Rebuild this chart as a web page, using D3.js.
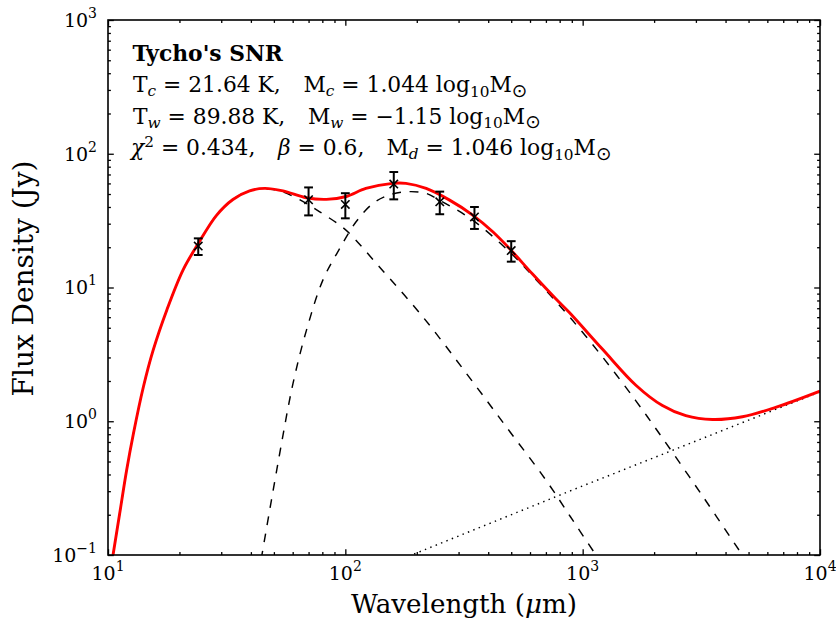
<!DOCTYPE html>
<html><head><meta charset="utf-8">
<script src="https://cdn.jsdelivr.net/npm/d3@7"></script>
<style>body{margin:0;background:#fff}svg{display:block}text{font-family:"DejaVu Serif",serif;fill:#000}</style>
</head><body><svg id="c" width="836" height="625"></svg>
<script>
// ---- data ----
const dataWavelength = [24, 70, 100, 160, 250, 350, 500];
const dataFlux       = [20.4, 45.3, 41.8, 59.3, 43.7, 33.7, 18.9];
const dataError      = [2.9, 10.7, 8.9, 13.7, 8.4, 6.3, 3.3];

const totalWavelength = [10.5, 11.2, 11.98, 12.8, 14.1, 15.5, 17.7, 20.7, 24, 28.6, 33.6, 39.5, 45.7, 54.6, 68.5, 83.2, 101, 122, 158, 180, 219, 275, 344, 418, 499, 615, 772, 879, 1213, 1676, 2168, 2720, 3522, 4710, 6500, 10000];
const totalFlux       = [0.1, 0.204, 0.43, 0.81, 1.81, 3.4, 6.8, 13.5, 21.3, 34.5, 45.5, 52.8, 55.1, 52.8, 46.9, 45.6, 47.9, 55, 60, 60, 55, 45, 34.8, 26.1, 19, 12.6, 8.2, 6.5, 3.45, 1.86, 1.31, 1.1, 1.03, 1.08, 1.27, 1.68];

const warmWavelength = [10.5, 11.2, 11.98, 12.8, 14.1, 15.5, 17.7, 20.7, 24, 28.6, 33.6, 39.5, 45.7, 54.6, 68.5, 78, 94.6, 104, 139, 212, 323, 476, 701, 908, 1138, 1200];
const warmFlux       = [0.1, 0.204, 0.43, 0.81, 1.81, 3.4, 6.8, 13.5, 21.3, 34.5, 45.5, 52.8, 54.9, 51.8, 42.5, 36.8, 29.3, 25.4, 14.3, 6.04, 2.29, 0.91, 0.362, 0.182, 0.1, 0.088];

const coldWavelength = [44.2, 52.9, 60.2, 68.6, 80.5, 94.6, 111, 131, 153, 181, 219, 249, 344, 499, 656, 880, 1213, 1676, 2168, 3192, 4710, 5000];
const coldFlux       = [0.093, 0.574, 1.92, 4.8, 11.4, 19.5, 31, 42.6, 49.1, 52, 50.6, 45, 31.9, 18, 10.8, 6.04, 3.02, 1.42, 0.75, 0.278, 0.1, 0.086];

const syncWavelength = [185, 880, 10000];
const syncFlux       = [0.098, 0.30, 1.66];

const xTickExponents = [1, 2, 3, 4];
const yTickExponents = [-1, 0, 1, 2, 3];

const titleText = "Tycho's SNR";
const yLabelText = "Flux Density (Jy)";

// annotation lines: segments [text, style]; "@x" starts a new anchored run
const NB = "\u00a0";
const line2 = [["@",133],["T","n"],["c","itsub"],[NB+"="+NB+"21.64"+NB+"K,","n"],
  ["@",303.5],["M","n"],["c","itsub"],[NB+"="+NB+"1.044"+NB+"log","n"],["10","sub"],["M","n"],["\u2299","sym"]];
const line3 = [["@",133],["T","n"],["w","itsub"],[NB+"="+NB+"89.88"+NB+"K,","n"],
  ["@",308],["M","n"],["w","itsub"],[NB+"="+NB+"\u22121.15"+NB+"log","n"],["10","sub"],["M","n"],["\u2299","sym"]];
const line4 = [["@",131],["\u03c7","it"],["2","sup"],[NB+"="+NB+"0.434,","n"],
  ["@",278],["\u03b2","it"],[NB+"="+NB+"0.6,","n"],
  ["@",386.5],["M","n"],["d","itsub"],[NB+"="+NB+"1.046"+NB+"log","n"],["10","sub"],["M","n"],["\u2299","sym"]];

// ---- layout ----
const L = 108, R = 820, T = 20, B = 555;
const svg = d3.select("#c");
svg.append("rect").attr("width", 836).attr("height", 625).attr("fill", "#fff");

const x = d3.scaleLog().domain([10, 1e4]).range([L, R]);
const y = d3.scaleLog().domain([0.1, 1000]).range([B, T]);

svg.append("clipPath").attr("id", "clip").append("rect")
  .attr("x", L).attr("y", T).attr("width", R - L).attr("height", B - T);

const line = d3.line().x(d => x(d[0])).y(d => y(d[1])).curve(d3.curveCatmullRom.alpha(0.5));
const zip = (a, b) => a.map((v, i) => [v, b[i]]);

const g = svg.append("g").attr("clip-path", "url(#clip)");
g.append("path").attr("d", line(zip(warmWavelength, warmFlux)))
  .attr("fill", "none").attr("stroke", "#000").attr("stroke-width", 1.45).attr("stroke-dasharray", "8.7,8.7");
g.append("path").attr("d", line(zip(coldWavelength, coldFlux)))
  .attr("fill", "none").attr("stroke", "#000").attr("stroke-width", 1.45).attr("stroke-dasharray", "8.7,8.7");
g.append("path").attr("d", d3.line().x(d => x(d[0])).y(d => y(d[1]))(zip(syncWavelength, syncFlux)))
  .attr("fill", "none").attr("stroke", "#000").attr("stroke-width", 1.45).attr("stroke-dasharray", "1.45,4.35");
g.append("path").attr("d", line(zip(totalWavelength, totalFlux)))
  .attr("fill", "none").attr("stroke", "#ff0000").attr("stroke-width", 2.9);

// data points with error bars
const pts = svg.append("g").attr("stroke", "#000");
dataWavelength.forEach((w, i) => {
  const cx = x(w), cy = y(dataFlux[i]);
  const y1 = y(dataFlux[i] + dataError[i]), y2 = y(dataFlux[i] - dataError[i]);
  pts.append("line").attr("x1", cx).attr("x2", cx).attr("y1", y1).attr("y2", y2).attr("stroke-width", 2);
  pts.append("line").attr("x1", cx - 4.4).attr("x2", cx + 4.4).attr("y1", y1).attr("y2", y1).attr("stroke-width", 2);
  pts.append("line").attr("x1", cx - 4.4).attr("x2", cx + 4.4).attr("y1", y2).attr("y2", y2).attr("stroke-width", 2);
  const m = 4.2;
  pts.append("line").attr("x1", cx - m).attr("x2", cx + m).attr("y1", cy - m).attr("y2", cy + m).attr("stroke-width", 1.6);
  pts.append("line").attr("x1", cx - m).attr("x2", cx + m).attr("y1", cy + m).attr("y2", cy - m).attr("stroke-width", 1.6);
});

// ---- axes (ticks inward on all four sides) ----
const xMajor = xTickExponents.map(e => Math.pow(10, e));
const yMajor = yTickExponents.map(e => Math.pow(10, e));
const minors = (lo, hi) => { const r = []; for (let e = lo; e < hi; e++) for (let k = 2; k <= 9; k++) r.push(k * Math.pow(10, e)); return r; };
const xMinor = minors(1, 4), yMinor = minors(-1, 3);
const MAJ = 5.8, MIN = 2.9;

function addAxis(axisFn, scale, vals, size, transform) {
  const a = svg.append("g").attr("transform", transform)
    .call(axisFn(scale).tickValues(vals).tickSizeInner(size).tickSizeOuter(0).tickFormat(""));
  a.select(".domain").remove();
  a.selectAll(".tick line").attr("stroke", "#000").attr("stroke-width", 1.3);
}
addAxis(d3.axisBottom, x, xMajor, -MAJ, `translate(0,${B})`);
addAxis(d3.axisBottom, x, xMinor, -MIN, `translate(0,${B})`);
addAxis(d3.axisTop, x, xMajor, -MAJ, `translate(0,${T})`);
addAxis(d3.axisTop, x, xMinor, -MIN, `translate(0,${T})`);
addAxis(d3.axisLeft, y, yMajor, -MAJ, `translate(${L},0)`);
addAxis(d3.axisLeft, y, yMinor, -MIN, `translate(${L},0)`);
addAxis(d3.axisRight, y, yMajor, -MAJ, `translate(${R},0)`);
addAxis(d3.axisRight, y, yMinor, -MIN, `translate(${R},0)`);

svg.append("rect").attr("x", L).attr("y", T).attr("width", R - L).attr("height", B - T)
  .attr("fill", "none").attr("stroke", "#000").attr("stroke-width", 1.6);

// tick labels: 10^e
function powLabel(sel, e) {
  sel.append("tspan").text("10");
  sel.append("tspan").attr("font-size", 14).attr("dy", -9).text(e < 0 ? "\u2212" + (-e) : String(e));
}
xTickExponents.forEach(e => {
  const t = svg.append("text").attr("x", x(Math.pow(10, e))).attr("y", 580)
    .attr("text-anchor", "middle").attr("font-size", 19);
  powLabel(t, e);
});
yTickExponents.forEach(e => {
  const t = svg.append("text").attr("x", 97).attr("y", y(Math.pow(10, e)) + 6.8)
    .attr("text-anchor", "end").attr("font-size", 19);
  powLabel(t, e);
});

// axis labels (sized to the reference's extent)
const xl = svg.append("text").attr("x", 464).attr("y", 613).attr("text-anchor", "middle").attr("font-size", 24);
xl.append("tspan").text("Wavelength (");
xl.append("tspan").attr("font-style", "italic").text("\u03bc");
xl.append("tspan").text("m)");
const xb = xl.node().getBBox();
xl.attr("font-size", 24 * 226 / xb.width);

const yl = svg.append("text").attr("transform", "translate(33.3,278.5) rotate(-90)")
  .attr("text-anchor", "middle").attr("font-size", 24).text(yLabelText);
const yb = yl.node().getBBox();
yl.attr("font-size", 24 * 236 / yb.width);

// annotation block
const FS = 21.8, SUB = 15.3;
svg.append("text").attr("x", 132.5).attr("y", 61).attr("font-size", FS).attr("font-weight", "bold").text(titleText);

function drawLine(segs, base) {
  let t = null, off = 0;
  segs.forEach(([s, st]) => {
    if (s === "@") {
      t = svg.append("text").attr("x", st).attr("y", base).attr("font-size", FS);
      off = 0;
      return;
    }
    let target = 0, fsz = FS, italic = false, fam = null;
    if (st === "it") italic = true;
    else if (st === "sub") { target = 4.5; fsz = SUB; }
    else if (st === "itsub") { target = 4; fsz = SUB; italic = true; }
    else if (st === "sup") { target = -8.5; fsz = SUB; }
    else if (st === "sym") { target = 4.5; fsz = 18.5; fam = "'DejaVu Sans',sans-serif"; }
    const sp = t.append("tspan").attr("dy", target - off).attr("font-size", fsz).text(s);
    if (italic) sp.attr("font-style", "italic");
    if (fam) sp.style("font-family", fam);
    off = target;
  });
}
drawLine(line2, 92);
drawLine(line3, 123.5);
drawLine(line4, 155);
</script></body></html>
